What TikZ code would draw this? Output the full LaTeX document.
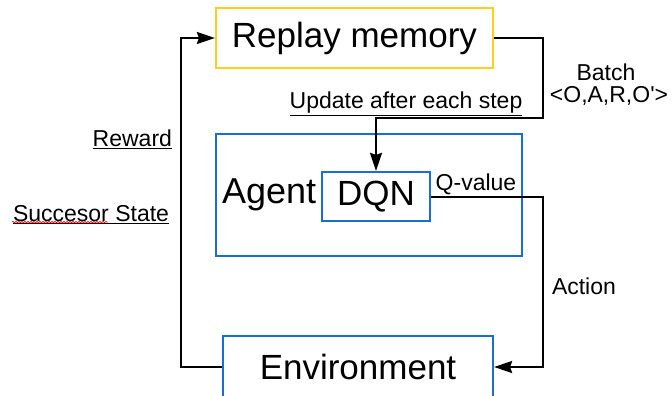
\documentclass[tikz,border=0pt]{standalone}
\usepackage{fontspec}
\setmainfont{Liberation Sans}
\usetikzlibrary{arrows.meta,decorations.pathmorphing}
\definecolor{memyellow}{RGB}{255,206,30}
\definecolor{boxblue}{RGB}{25,110,210}
\begin{document}
\begin{tikzpicture}[x=1pt,y=-1pt,line width=2pt,
    arr/.style={-{Stealth[length=18pt,width=12pt,inset=2pt]}},
    box/.style={draw,rectangle,inner sep=0pt,line width=2.2pt},
    big/.style={font=\fontsize{35}{40}\selectfont},
    lbl/.style={font=\fontsize{23}{27}\selectfont,inner sep=1pt}]
    \useasboundingbox (0,0) rectangle (672,396);
    % boxes
    \node[box,big,draw=memyellow,minimum width=277pt,minimum height=60pt](mem)at(354.5,38){Replay memory};
    \node[box,draw=boxblue,minimum width=306pt,minimum height=122pt](agent)at(369,195){};
    \node[box,big,draw=boxblue,minimum width=108pt,minimum height=49pt](dqn)at(376,196.5){DQN};
    \node[anchor=west,inner sep=0pt,font=\fontsize{36}{40}\selectfont](agtxt)at(221,195){Agent};
    \node[box,big,draw=boxblue,minimum width=270pt,minimum height=62pt](env)at(358,367){Environment};
    % corners
    \coordinate(lft)at(181,38);\coordinate(rt)at(543,118);\coordinate(act)at(543,367);
    % connectors
    \draw[arr](env.west)-|(lft)--(mem.west);
    \draw[arr](mem.east)-|(rt)-|(dqn.north);
    \draw[arr](dqn.east)-|(act)--(env.east);
    % labels
    \node[lbl](batch)at(606,72){Batch};
    \node[lbl](tuple)at(609,96){<O,A,R,O\textquotesingle>};
    \node[lbl](upd)at(406,104){\underline{Update after each step}};
    \node[lbl,anchor=east](rew)at(174,139){\underline{Reward}};
    \node[lbl,anchor=east](succ)at(171,215){\underline{Succesor State}};
    \draw[red,line width=0.7pt,decorate,decoration={snake,amplitude=0.8pt,segment length=3pt}]
        ([xshift=1pt,yshift=4pt]succ.south west)--++(96,0);
    \node[lbl](qval)at(476,184){Q-value};
    \node[lbl,anchor=west](actl)at(550,286){Action};
\end{tikzpicture}
\end{document}
